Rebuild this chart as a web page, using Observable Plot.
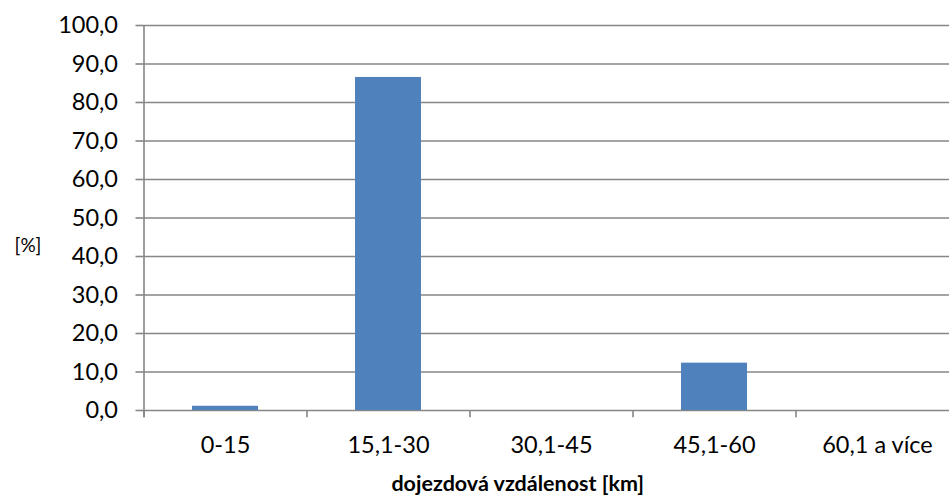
<!DOCTYPE html>
<html>
<head>
<meta charset="utf-8">
<script src="https://cdn.jsdelivr.net/npm/d3@7"></script>
<script src="https://cdn.jsdelivr.net/npm/@observablehq/plot@0.6"></script>
<style>
  html, body { margin: 0; padding: 0; background: #fff; }
  #chart svg { display: block; overflow: hidden; }
</style>
</head>
<body>
<div id="chart"></div>
<script>
const categories = ["0-15", "15,1-30", "30,1-45", "45,1-60", "60,1 a více"];
const values = [1.1, 86.5, 0, 12.3, 0];
const yTicks = [0, 10, 20, 30, 40, 50, 60, 70, 80, 90, 100];
const yLabel = "[%]";
const xTitle = "dojezdová vzdálenost [km]";

const data = categories.map((c, i) => ({ cat: c, value: values[i] }));
const fmt = v => v.toFixed(1).replace(".", ",");
const grid = "#868686";
const font = "Lato, 'Open Sans', sans-serif";

const chart = Plot.plot({
  width: 949,
  height: 497,
  marginTop: 25,
  marginBottom: 87,
  marginLeft: 143.5,
  marginRight: 0,
  style: { fontFamily: font, fontSize: "23px", color: "#000", background: "#fff" },
  x: { domain: categories, range: [143.5, 958.5], paddingInner: 0.595, paddingOuter: 0.2975, label: null },
  y: { domain: [0, 100], label: null },
  marks: [
    Plot.ruleY(yTicks, { y: d => d, stroke: grid, strokeWidth: 1.6 }),
    Plot.barY(data, { x: "cat", y: "value", fill: "#4f81bd" }),
    Plot.ruleX(categories, { x: d => d, dx: -81.5, y1: 0, y2: -1.9, stroke: grid, strokeWidth: 1.6 }),
    Plot.ruleX([0], { x: () => categories[0], dx: -81.5, y1: -1.9, y2: 100, stroke: grid, strokeWidth: 1.6 }),
    Plot.axisY({ ticks: yTicks, tickFormat: fmt, tickSize: 8, tickPadding: 18, stroke: grid, strokeWidth: 1.6, fontSize: 23.5, label: null }),
    Plot.axisX({ tickSize: 0, tickPadding: 26, fontSize: 23.5, label: null }),
    Plot.text([yLabel], { text: d => d, frameAnchor: "left", dx: -116, dy: 28, fontSize: 19, textAnchor: "middle" }),
    Plot.text([xTitle], { text: d => d, frameAnchor: "bottom", dx: -29, dy: 80, fontSize: 21.5, fontWeight: "bold", letterSpacing: "-0.6px", textAnchor: "middle" })
  ]
});
document.getElementById("chart").appendChild(chart);
</script>
</body>
</html>
